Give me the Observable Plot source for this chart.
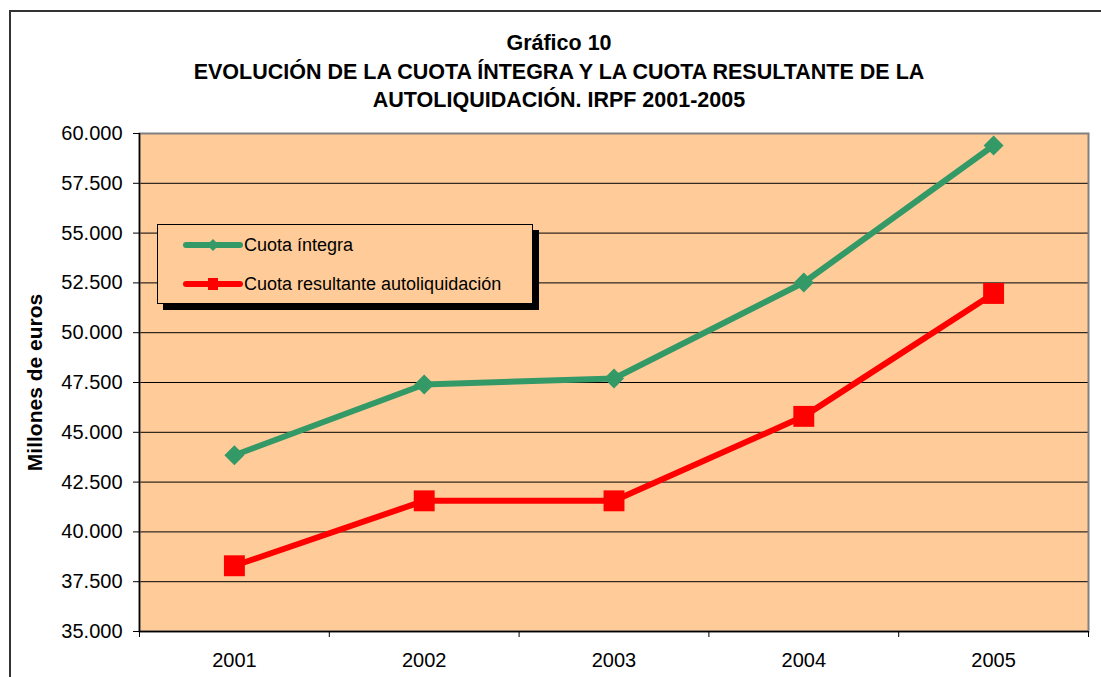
<!DOCTYPE html>
<html>
<head>
<meta charset="utf-8">
<script src="https://cdn.jsdelivr.net/npm/d3@7"></script>
<script src="https://cdn.jsdelivr.net/npm/@observablehq/plot@0.6"></script>
<style>
  html, body { margin: 0; padding: 0; background: #fff; }
  body { position: relative; width: 1101px; height: 677px; overflow: hidden; font-family: "Liberation Sans", Arial, sans-serif; color: #000; }
  #frame { position: absolute; left: 9px; top: 10px; width: 1200px; height: 900px; border: 2px solid #333; box-sizing: border-box; }
  #title { position: relative; height: 115px; box-sizing: border-box; padding-top: 29px; width: 1118px; text-align: center; font-weight: bold; font-size: 21.5px; line-height: 28.5px; }
  #chart { position: relative; }
  #chart svg { display: block; overflow: visible; }
  #legend { position: absolute; left: 157px; top: 224px; width: 376px; height: 80px; box-sizing: border-box; border: 1px solid #000; background: #FFCC99; box-shadow: 6px 6px 0 #000; }
  .item { position: absolute; left: 25px; height: 20px; display: flex; align-items: center; font-size: 18px; white-space: nowrap; }
  .item svg { display: block; margin-right: 1px; }
</style>
</head>
<body>
<div id="frame"></div>
<div id="title">Gráfico 10<br>EVOLUCIÓN DE LA CUOTA ÍNTEGRA Y LA CUOTA RESULTANTE DE LA<br>AUTOLIQUIDACIÓN. IRPF 2001-2005</div>
<div id="chart"></div>
<div id="legend"></div>
<script>
const years = [2001, 2002, 2003, 2004, 2005];
const seriesNames = ["Cuota íntegra", "Cuota resultante autoliquidación"];
const cuotaIntegra = [43850, 47400, 47700, 52520, 59400];
const cuotaResultante = [38300, 41560, 41560, 45800, 51970];
const yTicks = [35000, 37500, 40000, 42500, 45000, 47500, 50000, 52500, 55000, 57500, 60000];
const yLabel = "Millones de euros";
const seriesColors = ["#339966", "#FF0000"];

const rows = [];
years.forEach((yr, i) => {
  rows.push({year: yr, value: cuotaIntegra[i], series: seriesNames[0]});
  rows.push({year: yr, value: cuotaResultante[i], series: seriesNames[1]});
});
const boundaries = [years[0] - 0.5, ...years.map(y => y + 0.5)];
const fmt = d3.formatLocale({decimal: ",", thousands: ".", grouping: [3], currency: ["", ""]}).format(",.0f");

const chart = Plot.plot({
  width: 1101,
  height: 562,
  marginTop: 18,
  marginLeft: 139,
  marginRight: 13,
  marginBottom: 46,
  style: {fontFamily: "'Liberation Sans', Arial, sans-serif", fontSize: "20px", color: "#000", background: "transparent", overflow: "visible"},
  x: {domain: [boundaries[0], boundaries[boundaries.length - 1]]},
  y: {domain: [yTicks[0], yTicks[yTicks.length - 1]]},
  color: {domain: seriesNames, range: seriesColors},
  marks: [
    Plot.frame({fill: "#FFCC99"}),
    Plot.ruleY(yTicks.slice(1, -1), {stroke: "#000", strokeWidth: 1}),
    Plot.frame({stroke: "#808080", strokeWidth: 2}),
    Plot.ruleX([boundaries[0]], {stroke: "#000", strokeWidth: 1.5}),
    Plot.ruleY([yTicks[0]], {stroke: "#000", strokeWidth: 1.5}),
    Plot.axisY({ticks: yTicks, tickFormat: fmt, tickSize: 6, tickPadding: 11, label: null, fontSize: 20}),
    Plot.axisX({ticks: boundaries, tickFormat: () => "", tickSize: 6, label: null}),
    Plot.axisX({ticks: years, tickFormat: d => String(d), tickSize: 0, tickPadding: 21, label: null, fontSize: 20}),
    Plot.text([yLabel], {text: d => d, frameAnchor: "left", textAnchor: "middle", dx: -104, rotate: -90, fontWeight: "bold", fontSize: 21}),
    Plot.line(rows, {x: "year", y: "value", z: "series", stroke: "series", strokeWidth: 6, strokeLinejoin: "round"}),
    Plot.dot(rows.filter(d => d.series === seriesNames[0]), {x: "year", y: "value", symbol: "diamond2", r: 9, fill: "series", stroke: "none"}),
    Plot.dot(rows.filter(d => d.series === seriesNames[1]), {x: "year", y: "value", symbol: "square", r: 11.8, fill: "series", stroke: "none"})
  ]
});
document.getElementById("chart").appendChild(chart);

// Legend
const legend = document.getElementById("legend");
const ns = "http://www.w3.org/2000/svg";
seriesNames.forEach((name, i) => {
  const item = document.createElement("div");
  item.className = "item";
  item.style.top = (i === 0 ? 10 : 49) + "px";
  const svg = document.createElementNS(ns, "svg");
  svg.setAttribute("width", 60);
  svg.setAttribute("height", 20);
  const line = document.createElementNS(ns, "line");
  line.setAttribute("x1", 3); line.setAttribute("x2", 57);
  line.setAttribute("y1", 10); line.setAttribute("y2", 10);
  line.setAttribute("stroke", seriesColors[i]);
  line.setAttribute("stroke-width", 6);
  line.setAttribute("stroke-linecap", "round");
  svg.appendChild(line);
  const m = document.createElementNS(ns, "path");
  m.setAttribute("d", i === 0 ? "M30,4L36,10L30,16L24,10Z" : "M25,4H35V16H25Z");
  m.setAttribute("fill", seriesColors[i]);
  svg.appendChild(m);
  item.appendChild(svg);
  const t = document.createElement("span");
  t.textContent = name;
  item.appendChild(t);
  legend.appendChild(item);
});
</script>
</body>
</html>
